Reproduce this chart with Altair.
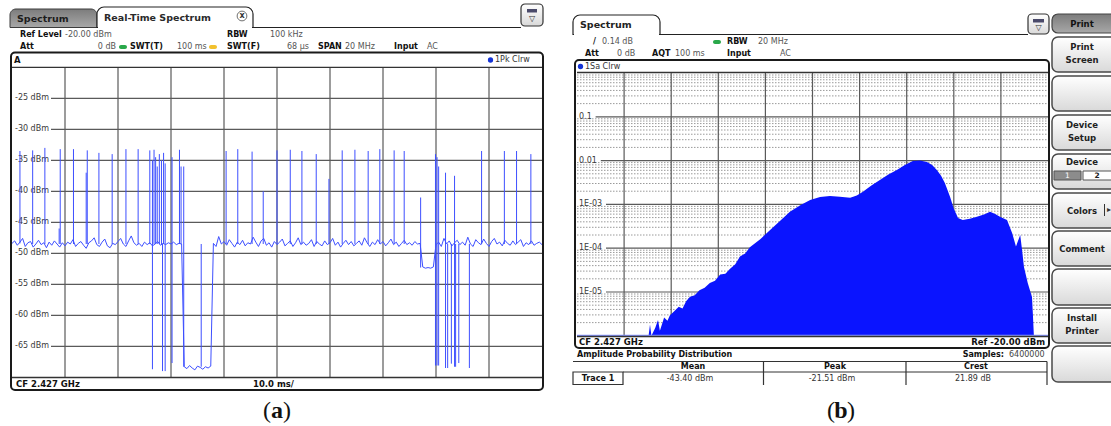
import numpy as np
import pandas as pd
import altair as alt

UI = "DejaVu Sans"
TRACE = "#3d4fff"
FILL = "#0a14ff"
GRID = "#5a5a5a"

# ---------------- left: real-time spectrum, zero-span power vs time ----------------
# sweep floor sampled every 0.5 ms over the 100 ms sweep (dBm)
floor_dbm = [
    -48.4, -48.0, -48.7, -48.2, -47.6, -48.9, -48.3, -48.1, -49.0, -48.5,
    -47.9, -48.6, -48.3, -49.1, -48.2, -48.7, -48.0, -48.5, -49.0, -48.3,
    -48.8, -48.2, -48.5, -47.8, -48.9, -48.4, -48.1, -48.7, -49.2, -48.3,
    -48.0, -47.5, -48.6, -48.9, -48.2, -47.7, -48.8, -49.1, -48.4, -48.6,
    -48.1, -47.6, -48.5, -48.9, -48.0, -47.2, -48.3, -48.7, -48.4, -48.9,
    -48.2, -48.6, -48.3, -48.8, -48.5, -48.1, -48.7, -48.4, -48.6, -48.3,
    -48.5, -48.2, -48.6, -48.4, -48.5, -68.3, -68.6, -68.1, -68.5, -68.8,
    -68.2, -68.4, -68.7, -68.3, -68.5, -68.2, -48.4, -48.9, -47.3, -48.5,
    -48.1, -48.7, -47.8, -48.4, -49.0, -48.2, -48.6, -47.9, -48.8, -48.3,
    -48.5, -47.4, -48.2, -48.9, -48.0, -47.6, -48.7, -48.3, -49.0, -48.1,
    -48.6, -48.2, -47.7, -48.8, -48.4, -48.0, -48.9, -48.3, -47.5, -48.6,
    -48.2, -48.7, -48.4, -47.8, -48.9, -48.1, -48.5, -48.8, -48.0, -48.6,
    -48.3, -47.6, -48.7, -48.2, -49.0, -48.4, -47.9, -48.6, -48.1, -48.8,
    -48.4, -48.0, -48.7, -47.5, -48.3, -48.9, -48.2, -48.6, -47.8, -48.5,
    -48.1, -48.8, -48.3, -47.7, -48.6, -48.2, -48.9, -48.4, -47.9, -48.6,
    -48.3, -48.7, -48.1, -48.5, -48.4, -52.2, -52.4, -52.3, -52.4, -52.2,
    -48.6, -48.2, -48.9, -47.6, -48.5, -48.0, -48.8, -48.3, -47.9, -48.6,
    -48.2, -48.7, -47.4, -48.5, -48.9, -47.8, -48.3, -48.6, -47.7, -48.4,
    -48.9, -48.1, -47.6, -48.5, -48.2, -48.8, -47.9, -48.4, -48.7, -48.0,
    -48.6, -48.2, -47.8, -48.9, -48.3, -48.6, -48.0, -48.7, -48.4, -48.2,
    -48.6,
]
sample_ms = 0.5

# short bursts and drop-outs: time (ms), lower end and upper end (dBm)
burst_ms = [1.5, 3.9, 6.2, 8.9, 9.1, 11.6, 14.0, 14.2, 16.4, 18.9, 21.5, 23.8,
            26.0, 26.5, 26.8, 27.1, 27.4, 27.8, 28.2, 28.4, 28.6, 28.9, 30.2, 31.6,
            31.9, 32.4, 35.7,
            40.4, 42.6, 45.3, 47.4, 50.0, 52.5, 54.7, 57.4, 59.8, 62.3, 64.7, 67.2,
            69.4, 72.1, 74.0, 77.1,
            79.9, 80.2, 80.5, 81.8, 82.2, 82.9, 83.5, 83.7, 84.3, 86.3,
            88.6, 92.9, 95.2, 97.9]
burst_lo = [-48.4, -48.5, -48.5, -48.5, -48.5, -48.5, -48.5, -48.5, -48.5, -48.5, -48.5, -48.5,
            -48.5, -68.7, -48.5, -48.5, -48.5, -48.5, -48.5, -69.0, -48.5, -69.0, -67.7, -48.5,
            -48.5, -68.3, -68.3,
            -48.5, -48.5, -48.5, -48.5, -48.5, -48.5, -48.5, -48.5, -48.5, -48.5, -48.5, -48.5,
            -48.5, -48.5, -48.5, -52.3,
            -68.1, -68.1, -68.1, -68.5, -68.5, -67.8, -68.3, -68.3, -67.7, -68.5,
            -48.5, -48.5, -48.5, -48.5]
burst_hi = [-33.5, -33.4, -33.0, -46.0, -33.2, -33.2, -37.0, -33.4, -33.8, -34.0, -33.2, -33.2,
            -33.4, -35.0, -33.3, -34.5, -36.0, -34.0, -35.0, -48.5, -33.8, -35.5, -34.5, -33.3,
            -36.0, -36.0, -48.5,
            -33.5, -33.2, -33.6, -40.0, -33.4, -33.3, -33.5, -34.0, -38.0, -33.4, -33.3, -33.5,
            -33.2, -33.4, -33.5, -41.0,
            -34.0, -34.5, -36.0, -37.0, -48.5, -48.5, -37.5, -48.5, -48.5, -48.5,
            -33.5, -33.5, -33.5, -34.0]

left_ticks = [-25, -30, -35, -40, -45, -50, -55, -60, -65]

# ---------------- right: amplitude probability distribution ----------------
apd_level = [-104.8, -104.5, -104.2, -103.4, -102.8, -102.4, -101.5, -100.8, -100.3, -99.2,
             -98.4, -97.6, -96.8, -96.0, -95.0, -94.0, -92.9, -91.8, -90.7, -89.6,
             -88.5, -87.5, -86.4, -85.4, -84.3, -83.3, -81.1, -79.0, -76.8, -74.8,
             -72.6, -70.5, -68.4, -66.3, -64.2, -62.0, -60.6, -59.3, -57.5, -55.7,
             -53.9, -52.1, -50.4, -48.7, -47.2, -45.7, -44.6, -43.6, -42.7, -41.9,
             -40.8, -40.0, -39.1, -38.1, -36.6, -35.1, -33.6, -32.3, -31.2, -30.2,
             -28.7, -27.6, -26.8, -25.9, -25.5, -25.1, -24.3, -23.4, -23.2, -23.0]
apd_prob = [1.0e-6, 1.8e-6, 1.0e-6, 1.5e-6, 2.3e-6, 1.3e-6, 2.6e-6, 2.2e-6, 2.9e-6, 3.8e-6,
            4.6e-6, 4.2e-6, 6.2e-6, 7.8e-6, 8.4e-6, 1.1e-5, 1.25e-5, 1.6e-5, 1.8e-5, 2.5e-5,
            2.6e-5, 3.4e-5, 4.3e-5, 6.5e-5, 7.6e-5, 1.05e-4, 1.6e-4, 2.6e-4, 4.3e-4, 6.8e-4,
            9.6e-4, 1.26e-3, 1.48e-3, 1.56e-3, 1.5e-3, 1.42e-3, 1.6e-3, 1.94e-3, 2.7e-3, 3.6e-3,
            4.8e-3, 6.1e-3, 7.9e-3, 9.8e-3, 1.0e-2, 9.3e-3, 7.9e-3, 6.1e-3, 4.5e-3, 3.1e-3,
            1.5e-3, 8.0e-4, 4.9e-4, 4.4e-4, 4.7e-4, 5.2e-4, 5.9e-4, 6.8e-4, 6.0e-4, 5.2e-4,
            4.4e-4, 2.2e-4, 1.1e-4, 2.0e-4, 9.0e-5, 3.7e-5, 1.6e-5, 7.7e-6, 3.0e-6, 1.0e-6]
right_ticks = [0.1, 0.01, 1e-3, 1e-4, 1e-5]
right_tick_text = ["0.1", "0.01", "1E-03", "1E-04", "1E-05"]

table_cols = ["Mean", "Peak", "Crest"]
table_vals = ["-43.40 dBm", "-21.51 dBm", "21.89 dB"]

# ---------------- scales (pixel ranges place each panel on the canvas) ----------------
LX = alt.Scale(domain=[0, 100], range=[12, 542], nice=False, zero=False)
LY = alt.Scale(domain=[-70, -20], range=[377.3, 67.3], nice=False, zero=False)
RX = alt.Scale(domain=[-120, -20], range=[577, 1048], nice=False, zero=False)
RY = alt.Scale(type="log", domain=[1e-6, 1], range=[335.8, 73], nice=False)

one = pd.DataFrame({"k": [0]})


def rect(x, x2, y, y2, **kw):
    return alt.Chart(one).mark_rect(**kw).encode(
        x=alt.value(x), x2=alt.value(x2), y=alt.value(y), y2=alt.value(y2))


def text(x, y, s, size=8, bold=False, color="#222", align="left", font=UI):
    return alt.Chart(one).mark_text(
        text=s, font=font, fontSize=size, fontWeight="bold" if bold else "normal",
        color=color, align=align, baseline="middle").encode(x=alt.value(x), y=alt.value(y))


def hline(x, x2, y, color="#222", w=1.0, **kw):
    return alt.Chart(one).mark_rule(color=color, strokeWidth=w, **kw).encode(
        x=alt.value(x), x2=alt.value(x2), y=alt.value(y))


def vline(x, y, y2, color="#222", w=1.0, **kw):
    return alt.Chart(one).mark_rule(color=color, strokeWidth=w, **kw).encode(
        x=alt.value(x), y=alt.value(y), y2=alt.value(y2))


def pill(x, x2, y, y2, color):
    return rect(x, x2, y, y2, fill=color, cornerRadius=2)


def dot(x, y, color, size=28):
    return alt.Chart(one).mark_point(filled=True, shape="circle", size=size,
                                     color=color, opacity=1).encode(x=alt.value(x), y=alt.value(y))


button_fill = alt.LinearGradient(gradient="linear", x1=0, y1=0, x2=0, y2=1,
                                 stops=[alt.GradientStop(color="#ffffff", offset=0),
                                        alt.GradientStop(color="#d9d9d9", offset=1)])
dark_fill = alt.LinearGradient(gradient="linear", x1=0, y1=0, x2=0, y2=1,
                               stops=[alt.GradientStop(color="#7c7c7c", offset=0),
                                      alt.GradientStop(color="#a8a8a8", offset=1)])

layers = []

# ======== left screen ========
# tabs
layers.append(rect(10, 97, 9, 27.5, fill=dark_fill, stroke="#3c3c3c", strokeWidth=1,
                   cornerRadiusTopLeft=6, cornerRadiusTopRight=6))
layers.append(text(17, 18.5, "Spectrum", size=9.5, bold=True, color="#1c1c1c"))
layers.append(hline(253, 521, 27.5, color="#222", w=1.2))
layers.append(rect(97, 253, 7, 27.5, fill="white", stroke="#222", strokeWidth=1.2,
                   cornerRadiusTopLeft=7, cornerRadiusTopRight=7))
layers.append(hline(98, 252, 27.8, color="white", w=1.5))
layers.append(text(104, 17.5, "Real-Time Spectrum", size=9.5, bold=True, color="#2a2a2a"))
layers.append(alt.Chart(one).mark_point(shape="circle", size=95, color="#333", strokeWidth=1)
              .encode(x=alt.value(242), y=alt.value(16)))
layers.append(text(242, 15.5, "x", size=8, bold=True, color="#333", align="center"))
# icon
layers.append(rect(521, 543, 4, 26, fill=button_fill, stroke="#333", strokeWidth=1.2, cornerRadius=4))
layers.append(rect(527, 537, 9, 12.5, fill="#4a4a6a"))
layers.append(text(532, 19, "▽", size=8, color="#333", align="center"))

# header
for x, s, b in [(20, "Ref Level", True), (65, "-20.00 dBm", False), (227, "RBW", True),
                (270, "100 kHz", False)]:
    layers.append(text(x, 35, s, bold=b, color="#111" if b else "#555"))
for x, s, b in [(20, "Att", True), (130, "SWT(T)", True),
                (177, "100 ms", False), (227, "SWT(F)", True), (287, "68 µs", False),
                (318, "SPAN", True), (345, "20 MHz", False), (394, "Input", True),
                (427, "AC", False)]:
    layers.append(text(x, 47, s, bold=b, color="#111" if b else "#555"))
layers.append(text(116, 47, "0 dB", color="#555", align="right"))
layers.append(pill(119, 127, 45, 49, "#29a84a"))
layers.append(pill(209, 217, 45, 49, "#f2c12e"))

# grid
left_vgrid = pd.DataFrame({"t": [10, 20, 30, 40, 50, 60, 70, 80, 90]})
layers.append(alt.Chart(left_vgrid).mark_rule(color=GRID, strokeWidth=1.2).encode(
    x=alt.X("t:Q", scale=LX, axis=None), y=alt.value(67.3), y2=alt.value(377.3)))
left_hgrid = pd.DataFrame({"v": left_ticks, "lab": [f"{v} dBm" for v in left_ticks]})
layers.append(alt.Chart(left_hgrid).mark_rule(color=GRID, strokeWidth=1.2).encode(
    y=alt.Y("v:Q", scale=LY, axis=None), x=alt.value(51), x2=alt.value(542)))
layers.append(alt.Chart(left_hgrid).mark_text(font=UI, fontSize=8, color="#3a3a3a",
                                              align="left", baseline="middle").encode(
    y=alt.Y("v:Q", scale=LY, axis=None), x=alt.value(15), text="lab:N"))

# trace
trace = pd.DataFrame({"t": np.arange(len(floor_dbm)) * sample_ms, "v": floor_dbm})
layers.append(alt.Chart(trace).mark_line(color=TRACE, strokeWidth=1).encode(
    x=alt.X("t:Q", scale=LX, axis=None), y=alt.Y("v:Q", scale=LY, axis=None)))
bursts = pd.DataFrame({"t": burst_ms, "lo": burst_lo, "hi": burst_hi})
layers.append(alt.Chart(bursts).mark_rule(color=TRACE, strokeWidth=1).encode(
    x=alt.X("t:Q", scale=LX, axis=None), y=alt.Y("lo:Q", scale=LY, axis=None), y2="hi:Q"))

# frame
layers.append(hline(12, 542, 67.3, color="#333", w=1.3))
layers.append(hline(12, 542, 377.5, color="#333", w=1.3))
layers.append(rect(11, 543, 52.5, 390, fill="transparent", stroke="#1a1a1a", strokeWidth=2,
                   cornerRadius=4))
layers.append(text(14, 60, "A", size=8.5, bold=True, color="#111"))
layers.append(dot(490.5, 60, "#1433d6"))
layers.append(text(495, 60, "1Pk Clrw", color="#333"))
layers.append(text(16, 384, "CF 2.427 GHz", size=8.5, bold=True, color="#111"))
layers.append(text(253, 384, "10.0 ms/", size=8.5, bold=True, color="#111"))

# ======== right screen ========
layers.append(hline(660, 1028, 34.5, color="#222", w=1.2))
layers.append(rect(573, 660, 15, 34.5, fill="white", stroke="#222", strokeWidth=1.2,
                   cornerRadiusTopLeft=7, cornerRadiusTopRight=7))
layers.append(hline(574, 659, 34.8, color="white", w=1.5))
layers.append(text(580, 25, "Spectrum", size=9.5, bold=True, color="#222"))
layers.append(rect(1028, 1049, 14, 34, fill=button_fill, stroke="#333", strokeWidth=1.2, cornerRadius=4))
layers.append(rect(1033, 1044, 19, 22.5, fill="#4a4a6a"))
layers.append(text(1038.5, 28, "▽", size=8, color="#333", align="center"))

for x, s, b in [(593, "/", True), (602, "0.14 dB", False), (727, "RBW", True), (758, "20 MHz", False)]:
    layers.append(text(x, 42, s, bold=b, color="#111" if b else "#555"))
for x, s, b in [(585, "Att", True), (617, "0 dB", False), (652, "AQT", True),
                (675, "100 ms", False), (727, "Input", True), (780, "AC", False)]:
    layers.append(text(x, 54, s, bold=b, color="#111" if b else "#555"))
layers.append(pill(713, 721, 40, 44, "#29a84a"))

# minor (dotted) and major grid of the log axis
minor = pd.DataFrame({"p": [k * 10.0 ** e for e in range(-6, 0) for k in range(2, 10)]})
layers.append(alt.Chart(minor).mark_rule(color="#9a9a9a", strokeWidth=1, strokeDash=[1.5, 1.5]).encode(
    y=alt.Y("p:Q", scale=RY, axis=None), x=alt.value(577), x2=alt.value(1048)))
right_vgrid = pd.DataFrame({"x": [-110, -100, -90, -80, -70, -60, -50, -40, -30]})
layers.append(alt.Chart(right_vgrid).mark_rule(color=GRID, strokeWidth=1.2).encode(
    x=alt.X("x:Q", scale=RX, axis=None), y=alt.value(73), y2=alt.value(336)))
for p, lab in zip(right_ticks, right_tick_text):
    row = pd.DataFrame({"p": [p], "lab": [lab]})
    start = 580 + 5.2 * len(lab)
    layers.append(alt.Chart(row).mark_rule(color=GRID, strokeWidth=1.2).encode(
        y=alt.Y("p:Q", scale=RY, axis=None), x=alt.value(start), x2=alt.value(1048)))
    layers.append(alt.Chart(row).mark_text(font=UI, fontSize=8, color="#3a3a3a",
                                           align="left", baseline="middle").encode(
        y=alt.Y("p:Q", scale=RY, axis=None), x=alt.value(579), text="lab:N"))

apd = pd.DataFrame({"x": apd_level, "p": apd_prob, "base": 1e-6})
layers.append(alt.Chart(apd).mark_area(color=FILL, opacity=1, interpolate="linear").encode(
    x=alt.X("x:Q", scale=RX, axis=None), y=alt.Y("p:Q", scale=RY, axis=None), y2="base:Q"))
layers.append(hline(577, 1048, 335.5, color="#8796ff", w=1.5))

layers.append(hline(577, 1048, 72.5, color="#333", w=1.3))
layers.append(hline(577, 1048, 336.5, color="#333", w=1.3))
layers.append(rect(575, 1049, 60, 348, fill="transparent", stroke="#1a1a1a", strokeWidth=2,
                   cornerRadius=4))
layers.append(dot(580.5, 66.5, "#1433d6"))
layers.append(text(585, 66.5, "1Sa Clrw", color="#333"))
layers.append(text(579, 342, "CF 2.427 GHz", size=8.5, bold=True, color="#111"))
layers.append(text(1045, 342, "Ref -20.00 dBm", size=8.5, bold=True, color="#111", align="right"))

# result table
layers.append(text(577, 355, "Amplitude Probability Distribution", size=8, bold=True, color="#111"))
layers.append(text(1004, 355, "Samples:", size=8, bold=True, color="#111", align="right"))
layers.append(text(1009, 355, "6400000", size=8, color="#444"))
layers.append(hline(573, 1047, 361.5, color="#333", w=1))
layers.append(hline(623, 1047, 372, color="#333", w=1))
for xs in [763.5, 906, 1047]:
    layers.append(vline(xs, 361.5, 385, color="#333", w=1.2))
layers.append(rect(573, 623, 372, 384.5, fill="white", stroke="#333", strokeWidth=1.2))
layers.append(text(598, 378.5, "Trace 1", size=8, bold=True, color="#111", align="center"))
for cx, h, v in zip([693, 835, 976], table_cols, table_vals):
    layers.append(text(cx, 367, h, size=8, bold=True, color="#111", align="center"))
    layers.append(text(cx - 3, 378.5, v, size=8, color="#333", align="center"))

# soft-key bar
layers.append(rect(1052, 1118, 14, 33, fill=dark_fill, stroke="#444", strokeWidth=1.2, cornerRadius=6))
layers.append(text(1082, 24, "Print", size=8.5, bold=True, color="#111", align="center"))
keys = [(37, 72, ["Print", "Screen"]), (76, 111, []), (115, 150, ["Device", "Setup"]),
        (154, 189, ["Device"]), (193, 228, ["Colors"]), (231, 266, ["Comment"]),
        (269, 305, []), (308, 343, ["Install", "Printer"]), (346, 382, [])]
for top, bot, lines in keys:
    layers.append(rect(1052, 1118, top, bot, fill=button_fill, stroke="#4a4a4a",
                       strokeWidth=1.5, cornerRadius=6))
    if len(lines) == 2:
        layers.append(text(1082, top + 10, lines[0], size=8.5, bold=True, color="#222", align="center"))
        layers.append(text(1082, top + 23, lines[1], size=8.5, bold=True, color="#222", align="center"))
    elif len(lines) == 1:
        yy = top + 8 if lines[0] == "Device" else (top + bot) / 2
        layers.append(text(1082, yy, lines[0], size=8.5, bold=True, color="#222", align="center"))
layers.append(rect(1054, 1081, 171, 180, fill="#8c8c8c", stroke="#555", strokeWidth=1))
layers.append(text(1067.5, 175.5, "1", size=7.5, color="white", align="center"))
layers.append(rect(1083, 1115, 171, 180, fill="white", stroke="#555", strokeWidth=1))
layers.append(text(1097, 175.5, "2", size=7.5, bold=True, color="#222", align="center"))
layers.append(vline(1104.5, 204, 216, color="#333", w=1))
layers.append(text(1107, 210, "▸", size=8, color="#333"))

# captions
for cx, letter in [(277, "a"), (841, "b")]:
    layers.append(text(cx - 6, 411, "(", size=24, color="#111", align="right", font="Liberation Serif"))
    layers.append(text(cx, 411, letter, size=24, bold=True, color="#111", align="center",
                       font="Liberation Serif"))
    layers.append(text(cx + 6, 411, ")", size=24, color="#111", align="left", font="Liberation Serif"))

chart = (alt.layer(*layers)
         .resolve_scale(x="independent", y="independent")
         .properties(width=1111, height=426, padding=0, autosize="none", background="white")
         .configure_view(stroke=None))

chart.save("out.html", embed_options={"renderer": "svg", "actions": False})
